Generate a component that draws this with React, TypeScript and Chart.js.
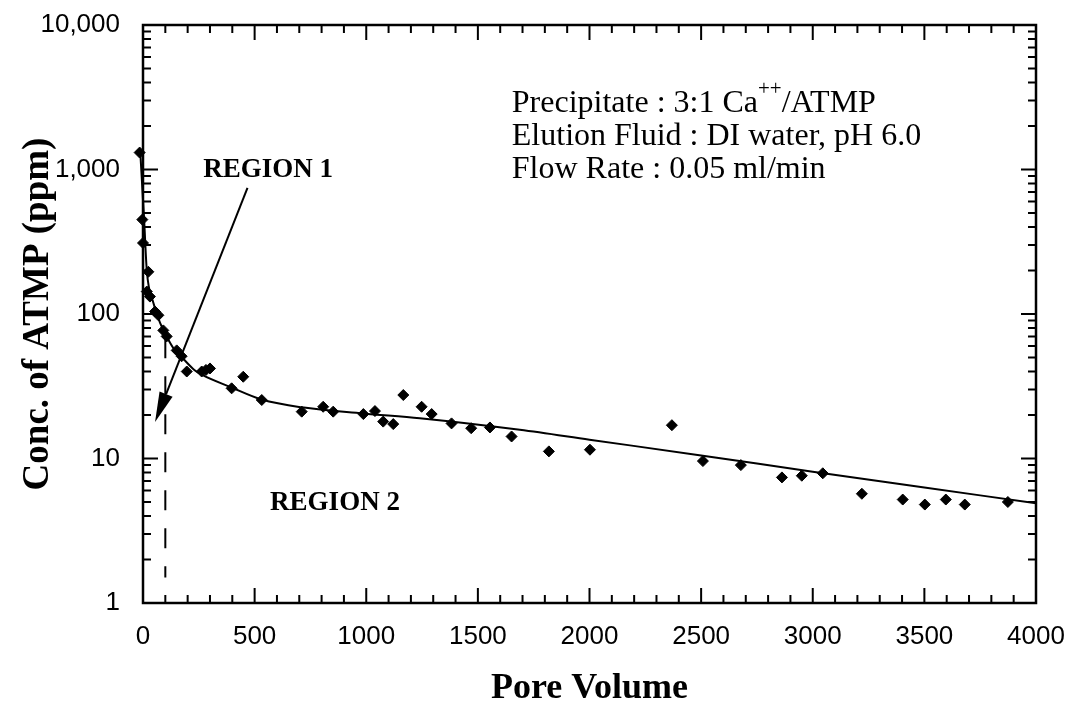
import React, { useEffect, useRef } from "react";
import { Chart, registerables } from "chart.js";

Chart.register(...registerables);

// ---- data ----
const POINT_PV = [
  -15, -3, 0, 24, 17, 31, 54, 69, 91, 106, 151, 173, 196,
  263, 282, 300, 449, 397, 532, 711, 807, 852, 987, 1039, 1076, 1121, 1166,
  1248, 1293, 1382, 1470, 1554, 1651, 1818, 2002, 2369, 2508, 2678, 2862,
  2951, 3045, 3220, 3403, 3502, 3596, 3681, 3874,
];
const POINT_PPM = [
  1310, 450, 310, 196, 143, 132, 104, 98, 77, 70, 56, 51, 40,
  40, 41, 42, 36.8, 30.6, 25.4, 21.1, 22.8, 21.1, 20.3, 21.3, 18.0, 17.3, 27.5,
  22.8, 20.3, 17.5, 16.2, 16.4, 14.2, 11.2, 11.5, 17.0, 9.6, 9.0, 7.4,
  7.6, 7.9, 5.7, 5.2, 4.8, 5.2, 4.8, 5.0,
];
const CURVE_PV = [
  -12, 5, 17, 46, 76, 110, 143, 180, 230, 263, 397, 532, 711, 987, 1240,
  1688, 2000, 2500, 3000, 3500, 4000,
];
const CURVE_PPM = [
  1300, 450, 200, 120, 87, 68, 56, 49, 41, 38, 31, 25.6, 22.6, 20.5, 19.0,
  15.8, 13.5, 10.5, 8.1, 6.3, 4.9,
];

const X_TICKS = [0, 500, 1000, 1500, 2000, 2500, 3000, 3500, 4000];
const X_MINOR_STEP = 100;
const Y_TICKS = [1, 10, 100, 1000, 10000];
const Y_TICK_LABELS = ["1", "10", "100", "1,000", "10,000"];
const X_TITLE = "Pore Volume";
const Y_TITLE = "Conc. of ATMP (ppm)";

const REGION_LABELS = ["REGION 1", "REGION 2"];
const REGION_PV = [560, 860];
const REGION_PPM = [993, 4.92];
const ARROW_PV = [468, 54];
const ARROW_PPM = [745, 17.9];
const DASH_PV = 100;
const DASH_PPM = [68, 1.5];
const INFO_PV = 1652;
const INFO_PPM = 2510;
const INFO_LINE1 = ["Precipitate : 3:1 Ca", "++", "/ATMP"];
const INFO_LINES = ["Elution Fluid : DI water, pH 6.0", "Flow Rate : 0.05 ml/min"];

const SERIF = "'Liberation Serif', 'Times New Roman', serif";
const SANS = "'Liberation Sans', Arial, sans-serif";

const decorPlugin = {
  id: "decor",
  afterDatasetsDraw(chart: any) {
    const { ctx, chartArea: a, scales } = chart;
    const x = scales.x;
    const y = scales.y;
    ctx.save();
    ctx.strokeStyle = "#000";
    ctx.fillStyle = "#000";

    // frame
    ctx.lineWidth = 2.5;
    ctx.strokeRect(a.left, a.top, a.right - a.left, a.bottom - a.top);

    // inward ticks
    ctx.lineWidth = 2;
    const MAJ = 15;
    const MIN = 8;
    const xMin = X_TICKS[0];
    const xMax = X_TICKS[X_TICKS.length - 1];
    for (let v = xMin; v <= xMax; v += X_MINOR_STEP) {
      const px = x.getPixelForValue(v);
      const len = X_TICKS.includes(v) ? MAJ : MIN;
      ctx.beginPath();
      ctx.moveTo(px, a.bottom);
      ctx.lineTo(px, a.bottom - len);
      ctx.moveTo(px, a.top);
      ctx.lineTo(px, a.top + len);
      ctx.stroke();
    }
    const yMax = Y_TICKS[Y_TICKS.length - 1];
    for (const dec of Y_TICKS) {
      for (let k = 1; k <= 9; k++) {
        const v = dec * k;
        if (v > yMax) break;
        const py = y.getPixelForValue(v);
        const len = k === 1 ? MAJ : MIN;
        ctx.beginPath();
        ctx.moveTo(a.left, py);
        ctx.lineTo(a.left + len, py);
        ctx.moveTo(a.right, py);
        ctx.lineTo(a.right - len, py);
        ctx.stroke();
      }
    }

    // dashed boundary line
    const dx = x.getPixelForValue(DASH_PV);
    ctx.lineWidth = 2;
    ctx.setLineDash([20, 18]);
    ctx.beginPath();
    ctx.moveTo(dx, y.getPixelForValue(DASH_PPM[0]));
    ctx.lineTo(dx, y.getPixelForValue(DASH_PPM[1]));
    ctx.stroke();
    ctx.setLineDash([]);

    // arrow
    const sx = x.getPixelForValue(ARROW_PV[0]);
    const sy = y.getPixelForValue(ARROW_PPM[0]);
    const tx = x.getPixelForValue(ARROW_PV[1]);
    const ty = y.getPixelForValue(ARROW_PPM[1]);
    const L = Math.hypot(tx - sx, ty - sy);
    const ux = (tx - sx) / L;
    const uy = (ty - sy) / L;
    const headLen = 30;
    const headW = 7;
    const bx = tx - ux * headLen;
    const by = ty - uy * headLen;
    ctx.lineWidth = 2;
    ctx.beginPath();
    ctx.moveTo(sx, sy);
    ctx.lineTo(bx, by);
    ctx.stroke();
    ctx.beginPath();
    ctx.moveTo(tx, ty);
    ctx.lineTo(bx - uy * headW, by + ux * headW);
    ctx.lineTo(bx + uy * headW, by - ux * headW);
    ctx.closePath();
    ctx.fill();

    // region labels
    ctx.font = `bold 27px ${SERIF}`;
    ctx.textAlign = "center";
    ctx.textBaseline = "middle";
    REGION_LABELS.forEach((t, i) => {
      ctx.fillText(t, x.getPixelForValue(REGION_PV[i]), y.getPixelForValue(REGION_PPM[i]));
    });

    // info text
    const ix = x.getPixelForValue(INFO_PV);
    const iy = y.getPixelForValue(INFO_PPM);
    ctx.textAlign = "left";
    ctx.textBaseline = "alphabetic";
    ctx.font = `32px ${SERIF}`;
    ctx.fillText(INFO_LINE1[0], ix, iy);
    let cx = ix + ctx.measureText(INFO_LINE1[0]).width;
    ctx.font = `21px ${SERIF}`;
    ctx.fillText(INFO_LINE1[1], cx, iy - 17);
    cx += ctx.measureText(INFO_LINE1[1]).width;
    ctx.font = `32px ${SERIF}`;
    ctx.fillText(INFO_LINE1[2], cx, iy);
    INFO_LINES.forEach((t, i) => {
      ctx.fillText(t, ix, iy + 33 * (i + 1));
    });

    ctx.restore();
  },
};

export default function App() {
  const ref = useRef<HTMLCanvasElement | null>(null);

  useEffect(() => {
    if (!ref.current) return;
    const points = POINT_PV.map((v, i) => ({ x: v, y: POINT_PPM[i] }));
    const curve = CURVE_PV.map((v, i) => ({ x: v, y: CURVE_PPM[i] }));
    const chart = new Chart(ref.current, {
      type: "scatter",
      data: {
        datasets: [
          {
            label: "fit",
            data: curve,
            showLine: true,
            borderColor: "#000",
            borderWidth: 2,
            pointRadius: 0,
            cubicInterpolationMode: "monotone",
            clip: false,
          } as any,
          {
            label: "ATMP",
            data: points,
            pointStyle: "rectRot",
            pointRadius: 5.5,
            backgroundColor: "#000",
            borderColor: "#000",
            borderWidth: 1,
            clip: false,
          } as any,
        ],
      },
      options: {
        animation: false,
        responsive: false,
        events: [],
        layout: { padding: { left: 0, right: 35, top: 25, bottom: 0 } },
        plugins: { legend: { display: false }, tooltip: { enabled: false } },
        scales: {
          x: {
            type: "linear",
            min: 0,
            max: 4000,
            grid: { display: false, drawTicks: false },
            border: { display: false },
            afterBuildTicks: (s: any) => {
              s.ticks = X_TICKS.map((v) => ({ value: v }));
            },
            afterFit: (s: any) => {
              s.height = 100;
              s.paddingLeft = 0;
              s.paddingRight = 0;
              s.paddingTop = 0;
              s.paddingBottom = 0;
            },
            ticks: {
              autoSkip: false,
              maxRotation: 0,
              padding: 18,
              color: "#000",
              font: { family: SANS, size: 26 },
              callback: (v: any) => String(v),
            },
            title: {
              display: true,
              text: X_TITLE,
              color: "#000",
              font: { family: SERIF, size: 36, weight: "bold", lineHeight: 0.8 },
              padding: { top: 0, bottom: 0 },
            },
          },
          y: {
            type: "logarithmic",
            min: 1,
            max: 10000,
            grid: { display: false, drawTicks: false },
            border: { display: false },
            afterBuildTicks: (s: any) => {
              s.ticks = Y_TICKS.map((v) => ({ value: v }));
            },
            afterFit: (s: any) => {
              s.width = 143;
              s.paddingLeft = 0;
              s.paddingRight = 0;
              s.paddingTop = 0;
              s.paddingBottom = 0;
            },
            ticks: {
              autoSkip: false,
              padding: 23,
              color: "#000",
              font: { family: SANS, size: 26 },
              callback: (v: any) => {
                const i = Y_TICKS.indexOf(Number(v));
                return i >= 0 ? Y_TICK_LABELS[i] : "";
              },
            },
            title: {
              display: true,
              text: Y_TITLE,
              color: "#000",
              font: { family: SERIF, size: 37, weight: "bold", lineHeight: 1 },
              padding: { top: 19.5, bottom: 0 },
            },
          },
        },
      },
      plugins: [decorPlugin],
    });
    return () => chart.destroy();
  }, []);

  return (
    <div style={{ position: "absolute", left: 0, top: 0, width: 1071, height: 703, background: "#fff" }}>
      <canvas ref={ref} width={1071} height={703} style={{ display: "block" }} />
    </div>
  );
}
